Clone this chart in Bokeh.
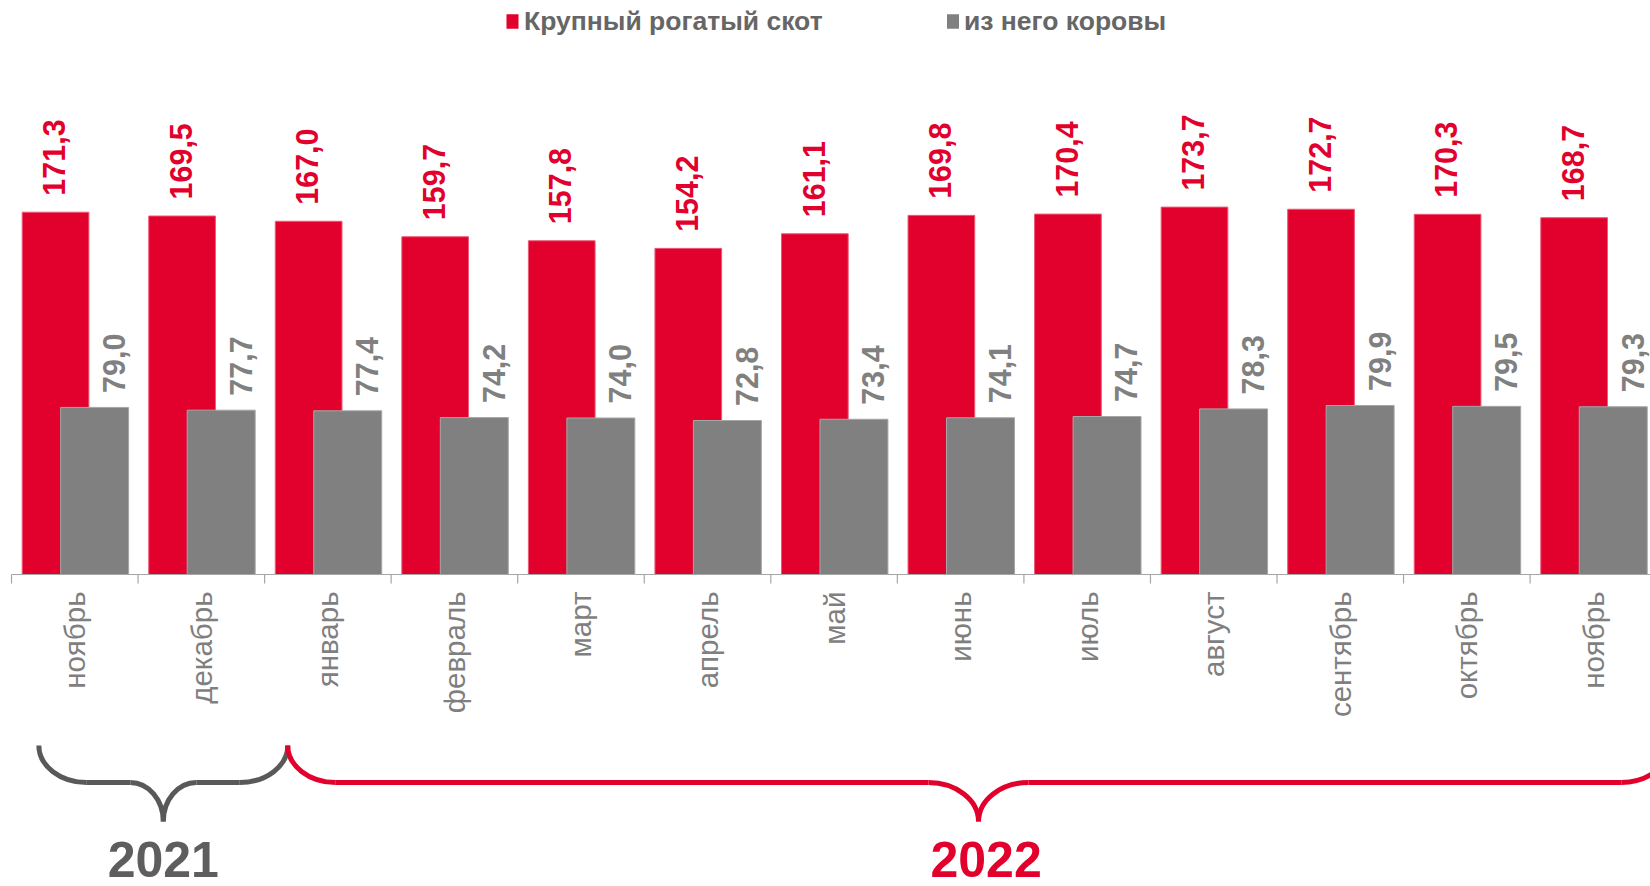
import math
from bokeh.plotting import figure
from bokeh.models import Range1d
from bokeh.core.properties import value
from bokeh.embed import file_html
from bokeh.resources import INLINE

# ---------------- data ----------------
months = ["ноябрь", "декабрь", "январь", "февраль", "март", "апрель", "май",
          "июнь", "июль", "август", "сентябрь", "октябрь", "ноябрь"]
cattle = [171.3, 169.5, 167.0, 159.7, 157.8, 154.2, 161.1, 169.8, 170.4, 173.7, 172.7, 170.3, 168.7]
cows = [79.0, 77.7, 77.4, 74.2, 74.0, 72.8, 73.4, 74.1, 74.7, 78.3, 79.9, 79.5, 79.3]
series_names = ["Крупный рогатый скот", "из него коровы"]
years = ["2021", "2022"]
year_first = [0, 2]
year_last = [1, 12]

# ---------------- style / layout ----------------
RED = "#E2002C"
GRAY = "#808080"
DARK = "#5E5E5E"
FONT = "Liberation Sans"

W_PX, H_PX = 1650, 886
CAT_PX = 126.55       # width of one category in pixels
X0_PX = 11.0          # first category boundary
AXIS_Y_PX = 574.0     # axis line from top
UNIT_PX = 2.115       # pixels per thousand head

def fmt(v):
    return f"{v:.1f}".replace(".", ",")

n = len(months)
idx = list(range(n))

p = figure(width=W_PX, height=H_PX, output_backend="svg", toolbar_location=None,
           x_axis_location=None, y_axis_location=None,
           x_range=Range1d(-X0_PX / CAT_PX, (W_PX - X0_PX) / CAT_PX),
           y_range=Range1d(-(H_PX - AXIS_Y_PX) / UNIT_PX, AXIS_Y_PX / UNIT_PX),
           min_border=0)
p.extra_y_ranges = {"px": Range1d(-(H_PX - AXIS_Y_PX), AXIS_Y_PX)}
p.extra_x_ranges = {"pg": Range1d(0, W_PX)}
p.outline_line_color = None
p.xgrid.visible = False
p.ygrid.visible = False
p.background_fill_color = "white"
p.border_fill_color = "white"

# bars
p.vbar(x=[i + 0.348 for i in idx], top=cattle, bottom=0, width=0.527,
       fill_color=RED, line_color="#EC5A75", line_width=1)
p.vbar(x=[i + 0.657 for i in idx], top=cows, bottom=0, width=0.537,
       fill_color=GRAY, line_color="#A6A6A6", line_width=1)

# value labels
GAP_RED = 16.5 / UNIT_PX
GAP_GRAY = 14.5 / UNIT_PX
p.text(x=[i + 0.338 for i in idx], y=[v + GAP_RED for v in cattle], text=[fmt(v) for v in cattle],
       angle=math.pi / 2, text_align="left", text_baseline="middle",
       text_font=value(FONT), text_font_style="bold", text_font_size="30.5px", text_color=RED)
p.text(x=[i + 0.81 for i in idx], y=[v + GAP_GRAY for v in cows], text=[fmt(v) for v in cows],
       angle=math.pi / 2, text_align="left", text_baseline="middle",
       text_font=value(FONT), text_font_style="bold", text_font_size="30.5px", text_color=GRAY)

# category axis
p.segment(x0=[0], y0=[0], x1=[n], y1=[0], line_color="#A6A6A6", line_width=1.2, y_range_name="px")
p.segment(x0=list(range(n + 1)), y0=[0] * (n + 1), x1=list(range(n + 1)), y1=[-9] * (n + 1),
          line_color="#A6A6A6", line_width=1.2, y_range_name="px")
p.text(x=[i + 0.5 for i in idx], y=[-17] * n, text=months, y_range_name="px",
       angle=math.pi / 2, text_align="right", text_baseline="middle",
       text_font=value(FONT), text_font_size="29.5px", text_color="#7F7F7F")

# year braces
Y_TOP, Y_MID, Y_TIP = -171, -208, -247
RO = 48 / CAT_PX
K = 0.552
brace_start_off = [0.216, 0.183]
brace_end_off = [0.183, 0.10]
inner_px = [33, 50]
brace_colors = ["#595959", RED]
year_colors = [DARK, RED]
year_x = []
for j in range(len(years)):
    x0 = year_first[j] + brace_start_off[j]
    x1 = year_last[j] + 1 + brace_end_off[j]
    xc = (x0 + x1) / 2
    ri = inner_px[j] / CAT_PX
    col = brace_colors[j]
    # outer curves
    p.bezier(x0=[x0, x1], y0=[Y_TOP, Y_TOP], x1=[x0 + RO, x1 - RO], y1=[Y_MID, Y_MID],
             cx0=[x0, x1], cy0=[Y_TOP + K * (Y_MID - Y_TOP)] * 2,
             cx1=[x0 + RO * (1 - K), x1 - RO * (1 - K)], cy1=[Y_MID, Y_MID],
             line_color=col, line_width=5, y_range_name="px")
    # straight parts
    p.segment(x0=[x0 + RO, xc + ri], y0=[Y_MID, Y_MID], x1=[xc - ri, x1 - RO], y1=[Y_MID, Y_MID],
              line_color=col, line_width=5, y_range_name="px")
    # inner curves to the tip
    p.bezier(x0=[xc - ri, xc + ri], y0=[Y_MID, Y_MID], x1=[xc, xc], y1=[Y_TIP, Y_TIP],
             cx0=[xc - ri * (1 - K), xc + ri * (1 - K)], cy0=[Y_MID, Y_MID],
             cx1=[xc, xc], cy1=[Y_MID - 0.45 * (Y_MID - Y_TIP)] * 2,
             line_color=col, line_width=5, y_range_name="px")
    year_x.append(xc)

p.text(x=[year_x[0], year_x[1] + 0.06], y=[-(H_PX - AXIS_Y_PX) + 10] * 2, text=years,
       y_range_name="px", text_align="center", text_baseline="bottom",
       text_font=value(FONT), text_font_style="bold", text_font_size="50px",
       text_color=year_colors)

# legend (page-pixel coordinates)
LEG_Y = AXIS_Y_PX - 21
p.rect(x=[512, 952.5], y=[LEG_Y, LEG_Y], width=12, height=14.5,
       x_range_name="pg", y_range_name="px", fill_color=[RED, GRAY], line_color=None)
p.text(x=[523.5, 963.5], y=[LEG_Y + 0.5, LEG_Y + 0.5], text=series_names,
       x_range_name="pg", y_range_name="px", text_align="left", text_baseline="middle",
       text_font=value(FONT), text_font_style="bold", text_font_size="26.5px", text_color="#666666")

open("out.html", "w").write(file_html(p, INLINE))
